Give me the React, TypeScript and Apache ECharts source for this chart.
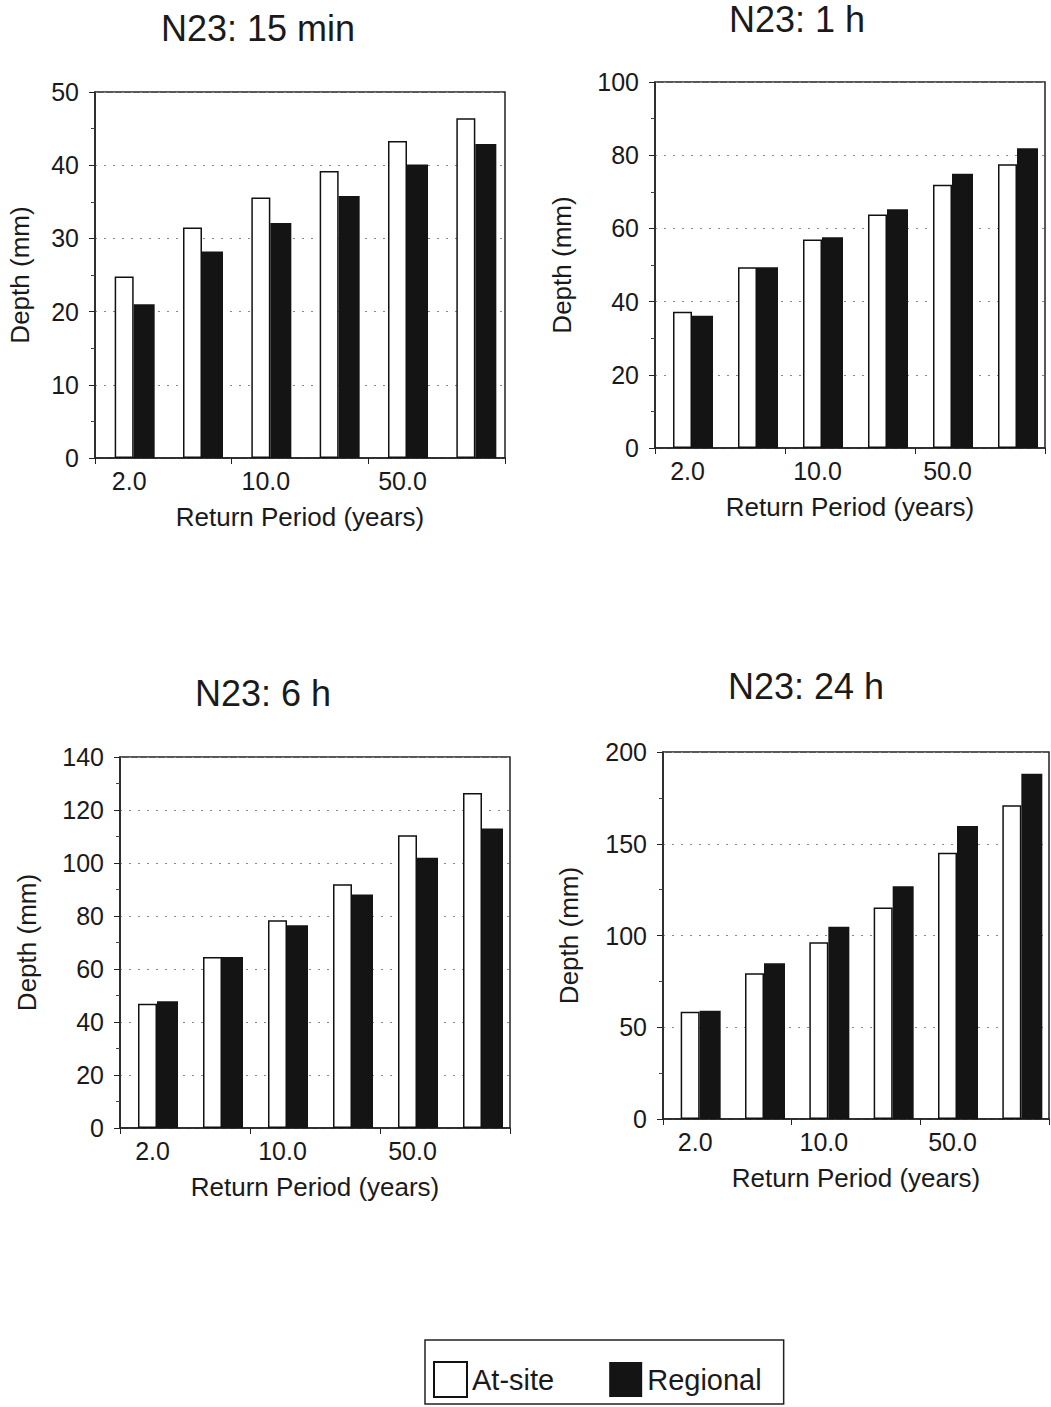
import React, { useEffect, useRef } from "react";
import * as echarts from "echarts";

const returnPeriods = ["2.0", "5.0", "10.0", "25.0", "50.0", "100.0"];
const titles = ["N23: 15 min", "N23: 1 h", "N23: 6 h", "N23: 24 h"];
const atSite15min = [24.8, 31.5, 35.6, 39.2, 43.3, 46.4];
const regional15min = [21.0, 28.2, 32.1, 35.8, 40.1, 42.9];
const atSite1h = [37.2, 49.4, 57.0, 63.8, 71.9, 77.5];
const regional1h = [36.1, 49.4, 57.6, 65.2, 74.9, 81.9];
const atSite6h = [46.9, 64.5, 78.4, 92.0, 110.5, 126.4];
const regional6h = [47.8, 64.5, 76.5, 88.1, 102.0, 113.0];
const atSite24h = [58.5, 79.4, 96.3, 115.3, 145.1, 171.0];
const regional24h = [59.0, 84.9, 104.8, 126.9, 159.7, 188.2];
const yMax = [50, 100, 140, 200];
const yInterval = [10, 20, 20, 50];

const FONT = "Liberation Sans, Arial, sans-serif";
const INK = "#1a1a1a";

export default function App() {
  const ref = useRef<HTMLDivElement>(null);
  useEffect(() => {
    if (!ref.current) return;
    const chart = echarts.init(ref.current, undefined, { renderer: "svg" });
    const atSite = [atSite15min, atSite1h, atSite6h, atSite24h];
    const regional = [regional15min, regional1h, regional6h, regional24h];
    const grids = [
      { left: 95, top: 92, width: 410, height: 366 },
      { left: 655, top: 82, width: 390, height: 366 },
      { left: 120, top: 757, width: 390, height: 371 },
      { left: 663, top: 752, width: 386, height: 367 },
    ];
    const yNameGap = [62, 80, 80, 81];
    const titlePos = [
      [258, 28],
      [797, 19],
      [263, 693],
      [806, 686],
    ];
    const option: any = {
      animation: false,
      backgroundColor: "#fff",
      textStyle: { fontFamily: FONT, color: INK },
      graphic: titles.map((t, i) => ({
        type: "text",
        x: titlePos[i][0],
        y: titlePos[i][1],
        style: {
          text: t,
          fontSize: 36,
          fontFamily: FONT,
          fill: INK,
          align: "center",
          verticalAlign: "middle",
        },
      })),
      legend: {
        data: ["At-site", "Regional"],
        left: 425,
        top: 1340,
        orient: "horizontal",
        padding: [21, 22, 6, 8],
        itemWidth: 33,
        itemHeight: 35,
        itemGap: 55,
        icon: "rect",
        borderColor: "#222",
        borderWidth: 1.5,
        textStyle: { fontSize: 29, fontFamily: FONT, color: INK, padding: [0, 0, 10, 0] },
      },
      grid: grids.map((g) => ({
        ...g,
        show: true,
        borderColor: "#222",
        borderWidth: 1.5,
        backgroundColor: "transparent",
        containLabel: false,
      })),
      xAxis: grids.map((_, i) => ({
        type: "category",
        gridIndex: i,
        data: returnPeriods,
        name: "Return Period (years)",
        nameLocation: "middle",
        nameGap: 46,
        nameTextStyle: { fontSize: 26, fontFamily: FONT, color: INK },
        axisLine: { lineStyle: { color: "#222", width: 1.5 } },
        axisTick: { show: true, length: 6, lineStyle: { color: "#222" } },
        axisLabel: { interval: 1, fontSize: 25, margin: 10, color: INK, fontFamily: FONT },
        splitLine: { show: false },
      })),
      yAxis: grids.map((_, i) => ({
        type: "value",
        gridIndex: i,
        min: 0,
        max: yMax[i],
        interval: yInterval[i],
        name: "Depth (mm)",
        nameLocation: "middle",
        nameGap: yNameGap[i],
        nameTextStyle: { fontSize: 26, fontFamily: FONT, color: INK },
        axisLine: { show: true, lineStyle: { color: "#222", width: 1.5 } },
        axisTick: { show: true, length: 6, lineStyle: { color: "#222" } },
        minorTick: { show: true, splitNumber: 2, length: 4, lineStyle: { color: "#444" } },
        axisLabel: { fontSize: 25, margin: 16, color: INK, fontFamily: FONT },
        splitLine: { show: true, lineStyle: { color: "#888", width: 1, type: [2, 7] } },
      })),
      series: grids.flatMap((_, i) => [
        {
          name: "offset",
          type: "bar",
          xAxisIndex: i,
          yAxisIndex: i,
          data: [],
          barWidth: 11,
          barGap: "0%",
          silent: true,
        },
        {
          name: "At-site",
          type: "bar",
          xAxisIndex: i,
          yAxisIndex: i,
          data: atSite[i],
          barWidth: 19,
          barGap: "0%",
          itemStyle: { color: "#ffffff", borderColor: "#111", borderWidth: 1.5 },
        },
        {
          name: "Regional",
          type: "bar",
          xAxisIndex: i,
          yAxisIndex: i,
          data: regional[i],
          barWidth: 21,
          barGap: "0%",
          itemStyle: { color: "#141414", borderColor: "#141414", borderWidth: 0 },
        },
      ]),
    };
    chart.setOption(option);
    return () => chart.dispose();
  }, []);
  return (
    <div
      ref={ref}
      style={{ position: "absolute", left: 0, top: 0, width: 1051, height: 1407 }}
    />
  );
}
